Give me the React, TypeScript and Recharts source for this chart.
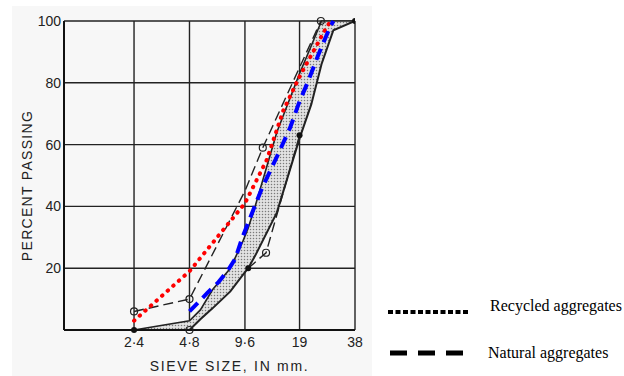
import {
  Area,
  CartesianGrid,
  ComposedChart,
  Label,
  Legend,
  Line,
  Scatter,
  XAxis,
  YAxis,
} from "recharts";

// sieve sizes (mm) shown on the x axis
const sieveTicks = [2.4, 4.8, 9.6, 19, 38];
const passingTicks = [20, 40, 60, 80, 100];

// shaded grading band: coarse (lower/right) and fine (upper/left) limits
const bandX = [2.4, 4.8, 5.5, 6.4, 8, 9.4, 10, 10.9, 14.3, 19, 22, 25, 29, 38];
const bandCoarse = [0, 0, 3.5, 7, 12.5, 18, 20, 24, 38, 62, 73, 86, 97, 100];
const bandFine = [0, 3, 6.5, 13, 20, 29, 33, 40, 64, 83, 92, 100, 100, 100];

// thin dashed envelope curves of the original figure
const upperEnvX = [2.4, 4.8, 9.6, 12, 24.8];
const upperEnvY = [6, 10, 45, 59, 100];
const lowerEnvX = [10, 12.5, 19];
const lowerEnvY = [20, 25, 63];

// recycled aggregates (red dotted)
const recycledX = [2.4, 4.8, 7, 9.6, 12.6, 15.5, 19, 22.5, 25.5, 28];
const recycledY = [3, 19, 31, 41, 55, 71, 82, 90, 96, 100];

// natural aggregates (blue dashed)
const naturalX = [4.8, 6, 6.9, 7.7, 8.5, 9.3, 10.2, 11.9, 14.3, 16.9, 19, 21, 24, 27.8, 29];
const naturalY = [6, 12, 15.5, 19, 23, 30, 36, 46, 56, 65.5, 74, 80, 89, 98, 100];

// sample point markers
const openX = [2.4, 4.8, 12, 24.8, 4.8, 12.5];
const openY = [6, 10, 59, 100, 0, 25];
const filledX = [2.4, 10, 19, 38];
const filledY = [0, 20, 63, 100];

const pts = (xs: number[], ys: number[]) => xs.map((x, i) => ({ x, y: ys[i] }));

const bandData = bandX.map((x, i) => ({ x, coarse: bandCoarse[i], fine: bandFine[i] }));
const upperEnv = pts(upperEnvX, upperEnvY);
const lowerEnv = pts(lowerEnvX, lowerEnvY);
const recycled = pts(recycledX, recycledY);
const natural = pts(naturalX, naturalY);
const openPts = pts(openX, openY);
const filledPts = pts(filledX, filledY);

const ink = "#222";
const sans = "Liberation Sans, Arial, sans-serif";
const tickStyle = { fontSize: 14, fill: "#222", fontFamily: sans };

function OpenDot(props: any) {
  const { cx, cy } = props;
  return <circle cx={cx} cy={cy} r={3.5} fill="none" stroke={ink} strokeWidth={1.2} />;
}

function FilledDot(props: any) {
  const { cx, cy } = props;
  return <circle cx={cx} cy={cy} r={3} fill="#111" />;
}

function LegendBox() {
  const text = {
    position: "absolute" as const,
    fontFamily: "Liberation Serif, Times New Roman, serif",
    fontSize: 16,
    lineHeight: "18px",
    color: "#000",
    whiteSpace: "nowrap" as const,
  };
  return (
    <div style={{ position: "relative", width: 244, height: 80 }}>
      <svg style={{ position: "absolute", left: 8, top: 16 }} width={84} height={8}>
        <line x1={0} y1={4} x2={82} y2={4} stroke="#000" strokeWidth={4} strokeDasharray="5 2.5" />
      </svg>
      <span style={{ ...text, left: 110, top: 5 }}>Recycled aggregates</span>
      <svg style={{ position: "absolute", left: 10, top: 57 }} width={76} height={8}>
        <line x1={0} y1={4} x2={74} y2={4} stroke="#000" strokeWidth={5} strokeDasharray="17 11" />
      </svg>
      <span style={{ ...text, left: 108, top: 52 }}>Natural aggregates</span>
    </div>
  );
}

export default function App() {
  return (
    <div style={{ position: "absolute", left: 0, top: 0, width: 624, height: 376, background: "#fff" }}>
      <div style={{ position: "absolute", left: 12, top: 6, width: 360, height: 370, background: "#f7f7f7" }} />
      <svg width={0} height={0} style={{ position: "absolute" }}>
        <defs>
          <pattern id="stipple" width={3} height={3} patternUnits="userSpaceOnUse">
            <rect width={3} height={3} fill="#e2e2e2" />
            <circle cx={1.5} cy={1.5} r={0.75} fill="#7a7a7a" />
          </pattern>
        </defs>
      </svg>
      <div style={{ position: "absolute", left: 0, top: 0 }}>
        <ComposedChart width={624} height={376} data={bandData} margin={{ top: 21, right: 269, bottom: 0, left: 0 }}>
          <CartesianGrid stroke={ink} strokeWidth={1.4} />
          <XAxis
            dataKey="x"
            type="number"
            scale="log"
            domain={[1, 38]}
            allowDataOverflow
            ticks={sieveTicks}
            tickFormatter={(v) => String(v).replace(".", "·")}
            tick={tickStyle}
            tickLine={false}
            tickSize={0}
            tickMargin={7}
            axisLine={{ stroke: "#111", strokeWidth: 2 }}
            height={46}
          >
            <Label
              content={({ viewBox }: any) => (
                <text
                  x={viewBox.x + viewBox.width / 2 + 20}
                  y={viewBox.y + 41}
                  textAnchor="middle"
                  fontSize={14}
                  fill="#222"
                  letterSpacing={1.7}
                  fontFamily={sans}
                >
                  SIEVE SIZE, IN mm.
                </text>
              )}
            />
          </XAxis>
          <YAxis
            dataKey="y"
            type="number"
            domain={[0, 100]}
            ticks={passingTicks}
            tick={tickStyle}
            tickLine={false}
            tickSize={0}
            tickMargin={3}
            axisLine={{ stroke: "#111", strokeWidth: 2 }}
            width={64}
          >
            <Label
              content={({ viewBox }: any) => {
                const cx = 27;
                const cy = viewBox.y + viewBox.height / 2 + 10;
                return (
                  <text
                    x={cx}
                    y={cy}
                    transform={`rotate(-90 ${cx} ${cy})`}
                    textAnchor="middle"
                    dominantBaseline="central"
                    fontSize={14}
                    fill="#222"
                    letterSpacing={1.3}
                    fontFamily={sans}
                  >
                    PERCENT  PASSING
                  </text>
                );
              }}
            />
          </YAxis>
          <Legend
            layout="horizontal"
            verticalAlign="middle"
            align="center"
            content={() => <LegendBox />}
            wrapperStyle={{ left: 380, top: 292, width: 244, height: 80 }}
          />
          <Area
            dataKey={(d: any) => [d.coarse, d.fine]}
            type="linear"
            fill="url(#stipple)"
            fillOpacity={1}
            stroke="none"
            isAnimationActive={false}
            legendType="none"
          />
          <Line dataKey="coarse" type="linear" stroke={ink} strokeWidth={2} dot={false} isAnimationActive={false} legendType="none" />
          <Line dataKey="fine" type="linear" stroke={ink} strokeWidth={1.6} dot={false} isAnimationActive={false} legendType="none" />
          <Line
            data={upperEnv}
            dataKey="y"
            type="linear"
            stroke={ink}
            strokeWidth={1.4}
            strokeDasharray="10 5"
            dot={false}
            isAnimationActive={false}
            legendType="none"
          />
          <Line
            data={lowerEnv}
            dataKey="y"
            type="linear"
            stroke={ink}
            strokeWidth={1.4}
            strokeDasharray="10 5"
            dot={false}
            isAnimationActive={false}
            legendType="none"
          />
          <Line
            data={recycled}
            dataKey="y"
            name="Recycled aggregates"
            type="linear"
            stroke="#ff0000"
            strokeWidth={4}
            strokeLinecap="round"
            strokeDasharray="0.5 7"
            dot={false}
            isAnimationActive={false}
          />
          <Line
            data={natural}
            dataKey="y"
            name="Natural aggregates"
            type="linear"
            stroke="#0000ff"
            strokeWidth={4}
            strokeDasharray="12 7"
            dot={false}
            isAnimationActive={false}
          />
          <Scatter data={openPts} dataKey="y" shape={OpenDot} isAnimationActive={false} legendType="none" />
          <Scatter data={filledPts} dataKey="y" shape={FilledDot} isAnimationActive={false} legendType="none" />
        </ComposedChart>
      </div>
    </div>
  );
}
